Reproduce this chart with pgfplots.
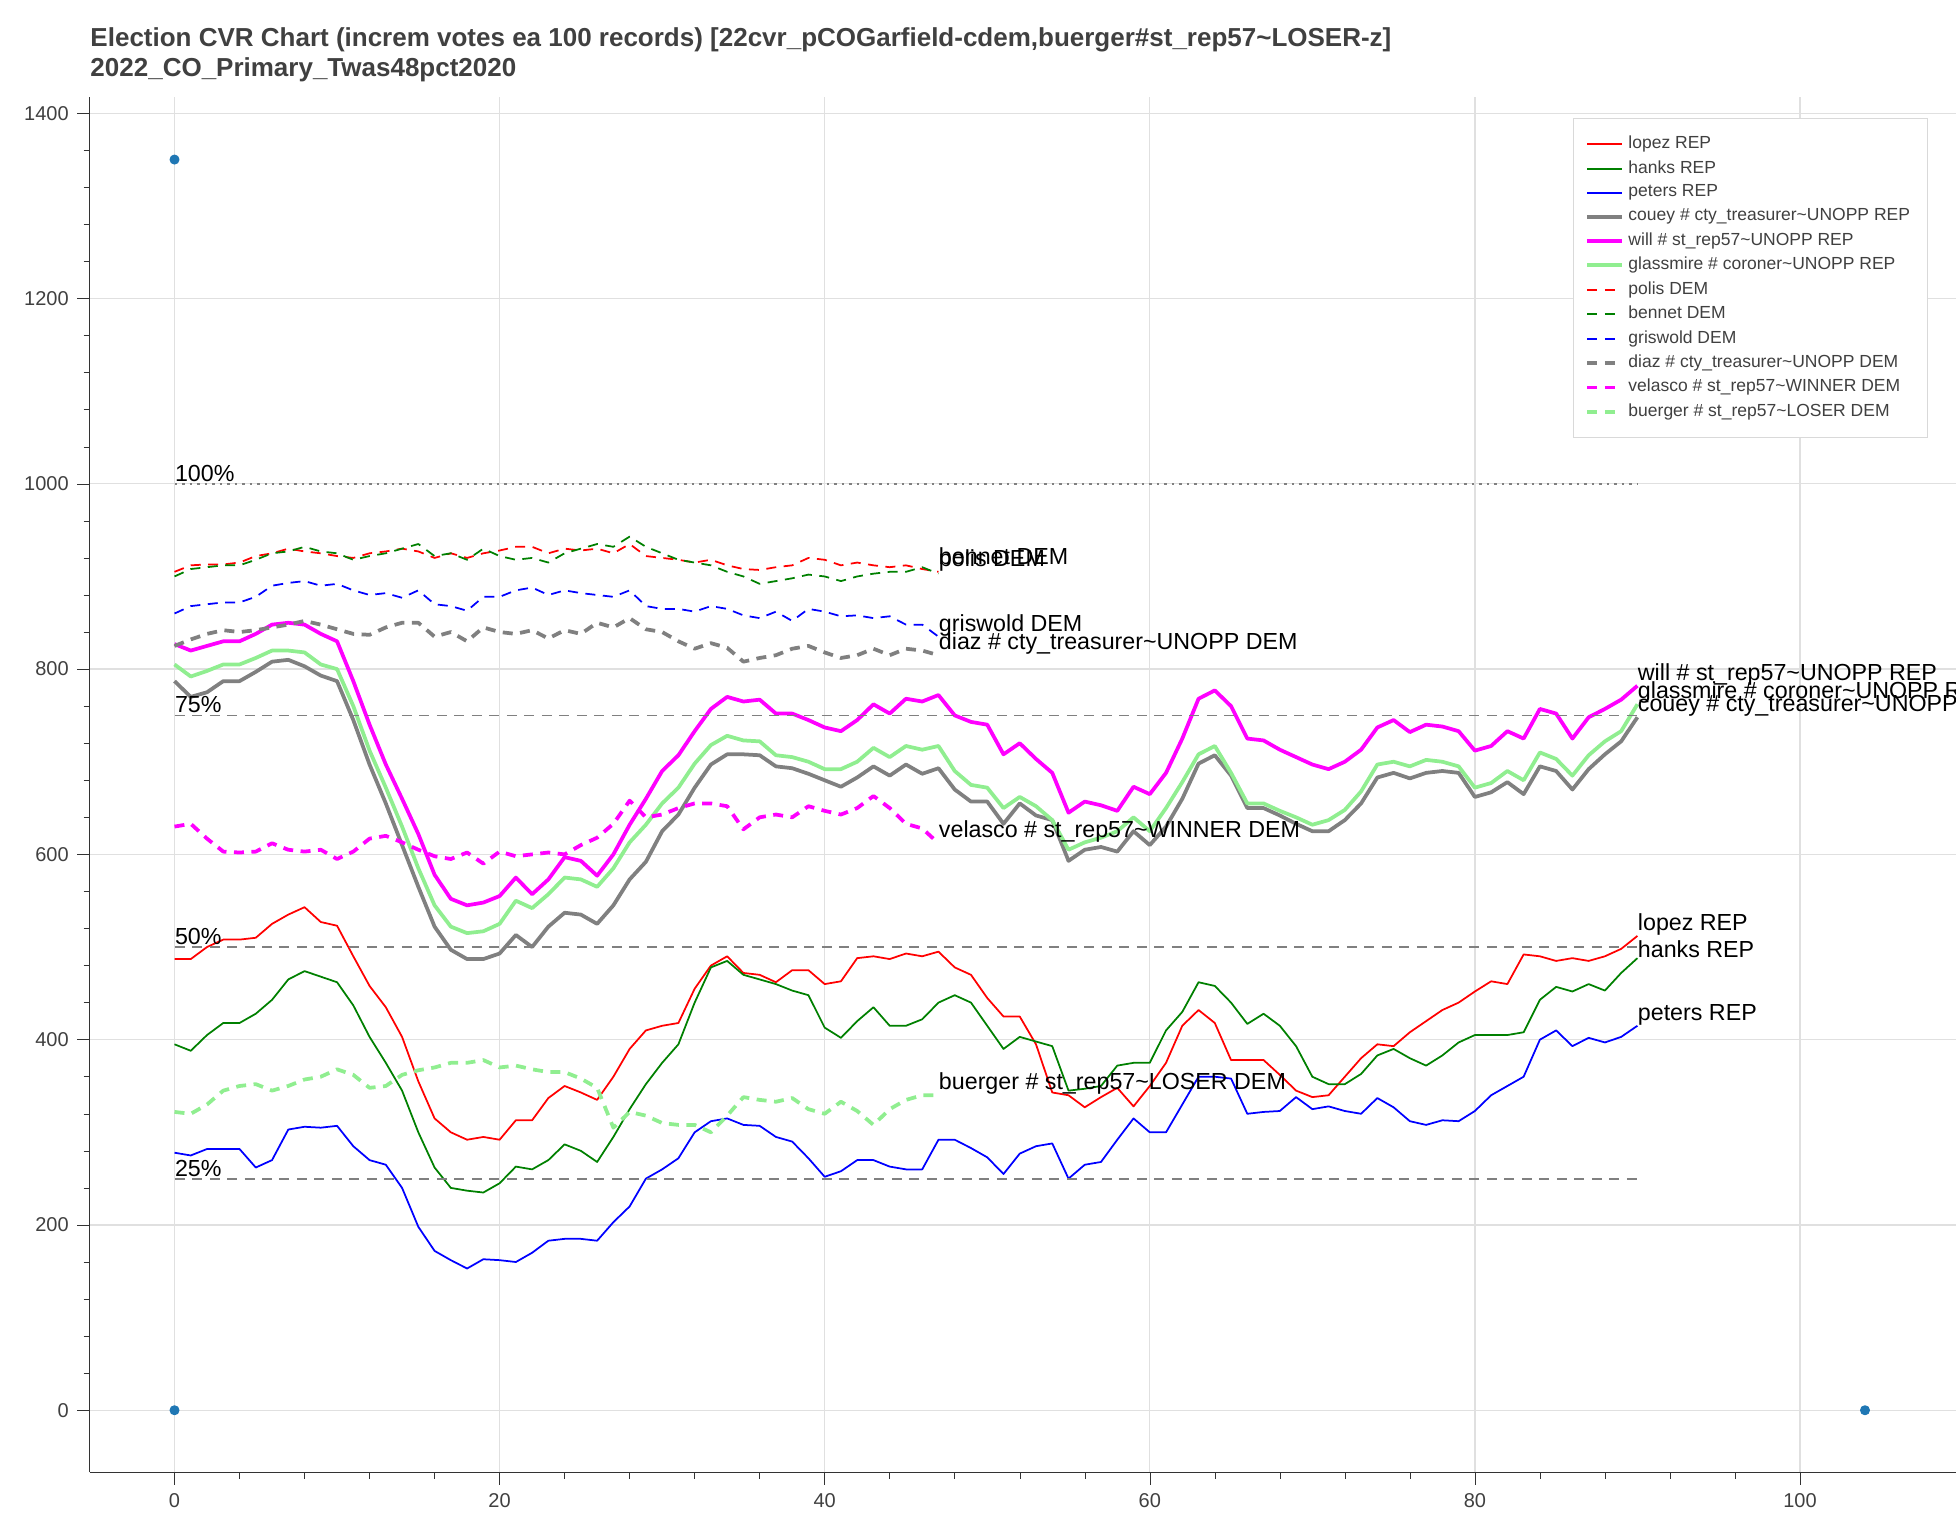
\documentclass[border=0pt]{standalone}
\usepackage{pgfplots}
\pgfplotsset{compat=1.18}
\usepackage{fontspec}
\setmainfont{Liberation Sans}
\definecolor{bgreen}{HTML}{008000}
\definecolor{bblue}{HTML}{0000FF}
\definecolor{bred}{HTML}{FF0000}
\definecolor{bgray}{HTML}{808080}
\definecolor{bmag}{HTML}{FF00FF}
\definecolor{blgreen}{HTML}{90EE90}
\definecolor{dot}{HTML}{1F77B4}
\begin{document}
\begin{tikzpicture}
\begin{axis}[
 scale only axis, width=746.5pt, height=550pt,
 xmin=-5.2, xmax=109.6, ymin=-67, ymax=1417,
 axis x line*=bottom, axis y line*=left,
 axis line style={-, black!80},
 xtick={0,20,...,100}, ytick={0,200,...,1400},
 minor x tick num=4, minor y tick num=4,
 tick align=outside, major tick length=5pt, minor tick length=2.5pt,
 tick style={black!80},
 grid=major, major grid style={black!12, line width=0.5pt},
 ticklabel style={font=\fontsize{8}{9}\selectfont, color=black!75},
 /pgf/number format/assume math mode=true,
 /pgf/number format/1000 sep={},
 legend style={at={(0.985,0.985)}, anchor=north east, draw=black!15, font=\fontsize{7}{8}\selectfont, text=black!75, row sep=-0.8pt, inner sep=5pt},
 legend cell align=left,
 legend image post style={xscale=0.8},
 clip=false,
 every axis plot/.append style={line join=round},
]
% REP
\addplot[bred, line width=0.7pt] table[x expr=\coordindex, y=v, row sep=\\]{v\\487\\487\\500\\508\\508\\510\\525\\535\\543\\527\\523\\490\\458\\435\\403\\355\\315\\300\\292\\295\\292\\313\\313\\337\\350\\343\\335\\360\\390\\410\\415\\418\\455\\480\\490\\472\\470\\462\\475\\475\\460\\463\\488\\490\\487\\493\\490\\495\\478\\470\\445\\425\\425\\395\\343\\340\\327\\338\\348\\328\\350\\375\\415\\432\\418\\378\\378\\378\\362\\345\\338\\340\\360\\380\\395\\393\\408\\420\\432\\440\\452\\463\\460\\492\\490\\485\\488\\485\\490\\498\\512\\};
\addlegendentry{lopez REP}
\addplot[bgreen, line width=0.7pt] table[x expr=\coordindex, y=v, row sep=\\]{v\\395\\388\\405\\418\\418\\428\\443\\465\\474\\468\\462\\437\\403\\375\\345\\300\\262\\240\\237\\235\\245\\263\\260\\270\\287\\280\\268\\295\\325\\352\\375\\395\\440\\478\\485\\470\\465\\460\\453\\448\\413\\402\\420\\435\\415\\415\\422\\440\\448\\440\\415\\390\\403\\398\\393\\345\\347\\350\\372\\375\\375\\410\\430\\462\\458\\440\\417\\428\\415\\393\\360\\352\\352\\363\\383\\390\\380\\372\\383\\397\\405\\405\\405\\408\\443\\457\\452\\460\\453\\472\\488\\};
\addlegendentry{hanks REP}
\addplot[bblue, line width=0.7pt] table[x expr=\coordindex, y=v, row sep=\\]{v\\278\\275\\282\\282\\282\\262\\270\\303\\306\\305\\307\\285\\270\\265\\240\\198\\172\\162\\153\\163\\162\\160\\170\\183\\185\\185\\183\\203\\220\\250\\260\\272\\300\\312\\315\\308\\307\\295\\290\\272\\252\\258\\270\\270\\263\\260\\260\\292\\292\\283\\273\\255\\277\\285\\288\\250\\265\\268\\292\\315\\300\\300\\330\\360\\360\\358\\320\\322\\323\\338\\325\\328\\323\\320\\337\\327\\312\\308\\313\\312\\323\\340\\350\\360\\400\\410\\393\\402\\397\\403\\415\\};
\addlegendentry{peters REP}
\addplot[bgray, line width=1.5pt] table[x expr=\coordindex, y=v, row sep=\\]{v\\787\\770\\775\\787\\787\\797\\808\\810\\803\\793\\787\\745\\697\\655\\610\\565\\522\\497\\487\\487\\493\\513\\500\\522\\537\\535\\525\\545\\573\\592\\625\\643\\672\\697\\708\\708\\707\\695\\693\\687\\680\\673\\683\\695\\685\\697\\687\\693\\670\\657\\657\\633\\655\\642\\637\\593\\605\\608\\603\\625\\610\\630\\660\\698\\707\\685\\650\\650\\642\\633\\625\\625\\637\\655\\683\\688\\682\\688\\690\\688\\662\\667\\678\\665\\695\\690\\670\\692\\708\\722\\748\\};
\addlegendentry{couey \# cty\_treasurer\textasciitilde UNOPP REP}
\addplot[bmag, line width=1.5pt] table[x expr=\coordindex, y=v, row sep=\\]{v\\827\\820\\825\\830\\830\\838\\848\\850\\848\\838\\830\\787\\740\\697\\660\\622\\578\\552\\545\\548\\555\\575\\557\\573\\597\\593\\577\\600\\632\\660\\690\\707\\733\\757\\770\\765\\767\\752\\752\\745\\737\\733\\745\\762\\752\\768\\765\\772\\750\\743\\740\\708\\720\\703\\688\\645\\657\\653\\647\\673\\665\\688\\725\\768\\777\\760\\725\\723\\713\\705\\697\\692\\700\\713\\737\\745\\732\\740\\738\\733\\712\\717\\733\\725\\757\\752\\725\\748\\757\\767\\782\\};
\addlegendentry{will \# st\_rep57\textasciitilde UNOPP REP}
\addplot[blgreen, line width=1.5pt] table[x expr=\coordindex, y=v, row sep=\\]{v\\805\\792\\798\\805\\805\\812\\820\\820\\818\\805\\800\\760\\712\\672\\630\\585\\545\\522\\515\\517\\525\\550\\542\\557\\575\\573\\565\\585\\613\\632\\655\\672\\698\\718\\728\\723\\722\\707\\705\\700\\692\\692\\700\\715\\705\\717\\713\\717\\690\\675\\672\\650\\662\\652\\637\\605\\613\\618\\625\\640\\625\\650\\678\\708\\717\\688\\655\\655\\647\\640\\632\\637\\648\\668\\697\\700\\695\\702\\700\\695\\672\\677\\690\\680\\710\\703\\685\\707\\722\\733\\762\\};
\addlegendentry{glassmire \# coroner\textasciitilde UNOPP REP}
% DEM
\addplot[bred, line width=0.7pt, dash pattern=on 4pt off 3pt] table[x expr=\coordindex, y=v, row sep=\\]{v\\905\\912\\913\\913\\915\\922\\925\\930\\927\\925\\922\\920\\925\\927\\930\\927\\920\\925\\920\\925\\928\\932\\932\\925\\930\\928\\930\\925\\935\\922\\920\\918\\915\\918\\912\\908\\907\\910\\912\\920\\918\\912\\915\\912\\910\\912\\908\\905\\};
\addlegendentry{polis DEM}
\addplot[bgreen, line width=0.7pt, dash pattern=on 4pt off 3pt] table[x expr=\coordindex, y=v, row sep=\\]{v\\900\\908\\910\\912\\912\\918\\925\\927\\932\\927\\925\\918\\922\\925\\930\\935\\922\\925\\918\\930\\922\\918\\920\\915\\925\\930\\935\\932\\943\\932\\925\\918\\915\\912\\905\\900\\892\\895\\898\\902\\900\\895\\900\\903\\905\\905\\910\\903\\};
\addlegendentry{bennet DEM}
\addplot[bblue, line width=0.7pt, dash pattern=on 4pt off 3pt] table[x expr=\coordindex, y=v, row sep=\\]{v\\860\\868\\870\\872\\872\\878\\890\\893\\895\\890\\892\\885\\880\\882\\877\\885\\870\\868\\863\\878\\878\\885\\888\\880\\885\\882\\880\\878\\885\\868\\865\\865\\862\\868\\865\\858\\855\\862\\852\\865\\862\\857\\858\\855\\857\\848\\848\\835\\};
\addlegendentry{griswold DEM}
\addplot[bgray, line width=1.5pt, dash pattern=on 4pt off 3pt] table[x expr=\coordindex, y=v, row sep=\\]{v\\825\\832\\838\\842\\840\\842\\845\\848\\852\\848\\843\\838\\837\\845\\850\\850\\835\\840\\830\\845\\840\\838\\842\\833\\842\\838\\850\\845\\855\\843\\840\\830\\822\\828\\823\\808\\812\\815\\822\\825\\818\\812\\815\\822\\815\\822\\820\\815\\};
\addlegendentry{diaz \# cty\_treasurer\textasciitilde UNOPP DEM}
\addplot[bmag, line width=1.5pt, dash pattern=on 4pt off 3pt] table[x expr=\coordindex, y=v, row sep=\\]{v\\630\\633\\617\\603\\602\\603\\612\\605\\603\\605\\595\\603\\617\\620\\613\\605\\598\\595\\602\\590\\603\\598\\600\\602\\600\\610\\618\\633\\658\\640\\643\\650\\655\\655\\652\\627\\640\\643\\640\\652\\647\\643\\650\\663\\650\\633\\628\\612\\};
\addlegendentry{velasco \# st\_rep57\textasciitilde WINNER DEM}
\addplot[blgreen, line width=1.5pt, dash pattern=on 4pt off 3pt] table[x expr=\coordindex, y=v, row sep=\\]{v\\322\\320\\330\\345\\350\\352\\345\\350\\357\\360\\368\\362\\348\\350\\362\\367\\370\\375\\375\\378\\370\\372\\368\\365\\365\\358\\348\\305\\322\\318\\310\\308\\308\\300\\318\\338\\335\\333\\337\\325\\320\\333\\323\\308\\325\\335\\340\\340\\};
\addlegendentry{buerger \# st\_rep57\textasciitilde LOSER DEM}
% reference lines
\addplot[forget plot, bgray, line width=0.7pt, dash pattern=on 1pt off 2pt] coordinates {(0,1000) (90,1000)};
\addplot[forget plot, bgray, line width=0.7pt, dash pattern=on 4pt off 3pt] coordinates {(0,750) (90,750)};
\addplot[forget plot, bgray, line width=0.7pt, dash pattern=on 4pt off 3pt] coordinates {(0,500) (90,500)};
\addplot[forget plot, bgray, line width=0.7pt, dash pattern=on 4pt off 3pt] coordinates {(0,250) (90,250)};
\addplot[forget plot, only marks, mark=*, mark size=1.8pt, dot] coordinates {(0,1350) (0,0) (104,0)};
\begin{scope}[every node/.style={anchor=south west, inner sep=0pt, font=\fontsize{9.3}{10}\selectfont}]
\node at (axis cs:0,1002) {100\%};
\node at (axis cs:0,752) {75\%};
\node at (axis cs:0,502) {50\%};
\node at (axis cs:0,252) {25\%};
\node at (axis cs:47,912) {bennet DEM};
\node at (axis cs:47,905) {polis DEM};
\node at (axis cs:47,835) {griswold DEM};
\node at (axis cs:47,815) {diaz \# cty\_treasurer\textasciitilde UNOPP DEM};
\node at (axis cs:47,612) {velasco \# st\_rep57\textasciitilde WINNER DEM};
\node at (axis cs:47,340) {buerger \# st\_rep57\textasciitilde LOSER DEM};
\node at (axis cs:90,782) {will \# st\_rep57\textasciitilde UNOPP REP};
\node at (axis cs:90,762) {glassmire \# coroner\textasciitilde UNOPP REP};
\node at (axis cs:90,748) {couey \# cty\_treasurer\textasciitilde UNOPP REP};
\node at (axis cs:90,512) {lopez REP};
\node at (axis cs:90,488) {hanks REP};
\node at (axis cs:90,415) {peters REP};
\end{scope}
\node[anchor=south west, align=left, inner sep=0pt, font=\bfseries\fontsize{10.4}{12}\selectfont, text=black!75] at ([yshift=6pt]rel axis cs:0,1) {Election CVR Chart (increm votes ea 100 records) [22cvr\_pCOGarfield-cdem,buerger\#st\_rep57\textasciitilde LOSER-z]\\2022\_CO\_Primary\_Twas48pct2020};
\coordinate (BL) at ([xshift=-36pt, yshift=-17.5pt]rel axis cs:0,0);
\coordinate (TR) at ([yshift=39pt]rel axis cs:1,1);
\end{axis}
\pgfresetboundingbox
\useasboundingbox (BL) rectangle (TR);
\end{tikzpicture}
\end{document}
